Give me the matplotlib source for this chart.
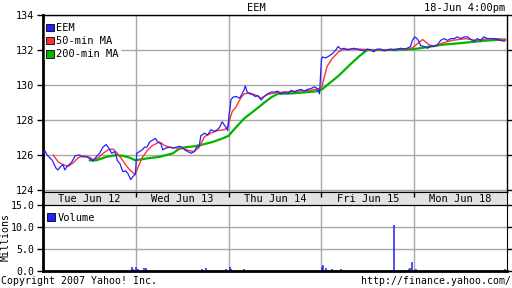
import matplotlib
matplotlib.use("Agg")
import matplotlib.pyplot as plt
from matplotlib.patches import Patch

plt.rcParams['font.family'] = ['DejaVu Sans Mono']
plt.rcParams['font.size'] = 7

# x is in trading days since Tue open (0..5)
days = ["Tue Jun 12", "Wed Jun 13", "Thu Jun 14", "Fri Jun 15", "Mon Jun 18"]

eem_x = [0.00, 0.02, 0.045, 0.10, 0.14, 0.16, 0.19, 0.215, 0.235, 0.26, 0.31, 0.345, 0.39, 0.43,
         0.47, 0.505, 0.54, 0.58, 0.61, 0.645, 0.68, 0.71, 0.74, 0.775, 0.80, 0.83, 0.86, 0.89,
         0.915, 0.945, 0.975, 0.995,
         1.01, 1.04, 1.07, 1.095, 1.12, 1.15, 1.18, 1.21, 1.235, 1.27, 1.29, 1.325, 1.36, 1.40,
         1.435, 1.47, 1.50, 1.525, 1.56, 1.595, 1.63, 1.65, 1.685, 1.70, 1.74, 1.775, 1.81, 1.845,
         1.88, 1.905, 1.93, 1.955, 1.97, 1.99,
         2.005, 2.015, 2.025, 2.045, 2.08, 2.12, 2.14, 2.165, 2.18, 2.20, 2.225, 2.26, 2.285,
         2.315, 2.35, 2.385, 2.42, 2.46, 2.495, 2.53, 2.565, 2.60, 2.64, 2.675, 2.71, 2.745, 2.78,
         2.815, 2.85, 2.89, 2.925, 2.955, 2.98,
         3.00, 3.01, 3.045, 3.08, 3.12, 3.155, 3.18, 3.21, 3.245, 3.28, 3.315, 3.35, 3.385, 3.42,
         3.46, 3.495, 3.53, 3.565, 3.60, 3.64, 3.675, 3.71, 3.745, 3.78, 3.815, 3.855, 3.89, 3.925,
         3.96, 3.98,
         4.005, 4.02, 4.045, 4.07, 4.11, 4.145, 4.18, 4.215, 4.25, 4.285, 4.32, 4.36, 4.395, 4.43,
         4.465, 4.50, 4.54, 4.575, 4.61, 4.645, 4.68, 4.715, 4.75, 4.79, 4.825, 4.86, 4.895, 4.93,
         4.97]
eem_y = [126.1, 126.25, 126.0, 125.7, 125.25, 125.15, 125.35, 125.45, 125.15, 125.35, 125.6, 125.95,
         126.0, 125.9, 125.9, 125.8, 125.65, 125.95, 126.1, 126.45, 126.6, 126.4, 126.1, 126.2,
         125.7, 125.5, 125.05, 125.1, 124.95, 124.6, 124.8, 124.9,
         126.1, 126.2, 126.3, 126.45, 126.45, 126.75, 126.85, 126.95, 126.75, 126.65, 126.3, 126.4,
         126.45, 126.4, 126.45, 126.5, 126.45, 126.3, 126.2, 126.1, 126.2, 126.4, 126.55, 127.1,
         127.25, 127.15, 127.45, 127.35, 127.45, 127.6, 127.9, 127.7, 127.6, 127.4,
         128.3, 128.65, 129.15, 129.3, 129.35, 129.25, 129.45, 129.7, 129.95, 129.6, 129.5, 129.45,
         129.35, 129.4, 129.15, 129.35, 129.5, 129.6, 129.6, 129.65, 129.5, 129.6, 129.5, 129.7,
         129.6, 129.7, 129.75, 129.65, 129.75, 129.8, 129.9, 129.8, 129.5,
         131.45, 131.6, 131.55, 131.65, 131.8, 132.0, 132.2, 132.05, 132.1, 132.0, 132.05, 132.1,
         132.05, 132.0, 131.95, 132.05, 132.0, 131.9, 132.05, 132.05, 131.95, 132.0, 132.05, 132.0,
         132.05, 132.1, 132.05, 132.1, 132.2, 132.55,
         132.75, 132.7, 132.55, 132.25, 132.2, 132.1, 132.25, 132.2, 132.3, 132.55, 132.65, 132.55,
         132.65, 132.65, 132.75, 132.65, 132.75, 132.75, 132.6, 132.5, 132.65, 132.55, 132.75,
         132.65, 132.65, 132.65, 132.6, 132.55, 132.5]

ma50_x = [0.11, 0.165, 0.22, 0.27, 0.325, 0.38, 0.435, 0.49, 0.54, 0.595, 0.65, 0.70, 0.755, 0.80,
          0.845, 0.89, 0.935, 0.99,
          1.005, 1.04, 1.075, 1.13, 1.18, 1.255, 1.31, 1.36, 1.435, 1.505, 1.575, 1.63, 1.685, 1.74,
          1.81, 1.88, 1.955, 1.99,
          2.01, 2.04, 2.08, 2.135, 2.17, 2.225, 2.28, 2.35, 2.42, 2.495, 2.60, 2.74, 2.89, 2.98,
          3.005, 3.06, 3.115, 3.185, 3.245, 3.41, 3.625, 3.84, 3.97,
          4.01, 4.09, 4.16, 4.215, 4.305, 4.41, 4.555, 4.665, 4.805, 4.915, 4.985]
ma50_y = [126.0, 125.6, 125.45, 125.35, 125.55, 125.85, 125.95, 125.9, 125.75, 125.85, 126.1, 126.3,
          126.35, 126.1, 125.8, 125.45, 125.15, 124.9,
          125.05, 125.5, 125.9, 126.3, 126.55, 126.75, 126.55, 126.45, 126.4, 126.4, 126.25, 126.2,
          126.45, 127.05, 127.25, 127.4, 127.45, 127.6,
          128.0, 128.5, 128.75, 129.3, 129.5, 129.55, 129.45, 129.25, 129.45, 129.55, 129.6, 129.65,
          129.7, 129.8,
          129.9, 131.05, 131.5, 131.9, 132.05, 132.05, 132.0, 132.05, 132.1,
          132.25, 132.6, 132.3, 132.2, 132.4, 132.55, 132.65, 132.55, 132.65, 132.65, 132.55]

ma200_x = [0.505, 0.575, 0.63, 0.685, 0.74, 0.79, 0.865, 0.935, 0.995,
           1.11, 1.255, 1.40, 1.465, 1.54, 1.63, 1.72, 1.83, 1.935, 2.0,
           2.065, 2.17, 2.28, 2.385, 2.46, 2.53, 2.675, 2.815, 2.96,
           3.005, 3.19, 3.315, 3.42, 3.495, 3.60, 3.815, 3.995,
           4.30, 4.51, 4.80, 4.98]
ma200_y = [125.7, 125.7, 125.8, 125.9, 125.95, 126.0, 125.95, 125.85, 125.7,
           125.8, 125.9, 126.1, 126.35, 126.45, 126.5, 126.6, 126.75, 126.95, 127.1,
           127.5, 128.1, 128.55, 129.0, 129.3, 129.5, 129.52, 129.58, 129.65,
           129.75, 130.55, 131.2, 131.7, 132.0, 132.0, 132.0, 132.05,
           132.3, 132.4, 132.55, 132.6]

vol_x = [0.003, 0.37, 0.525, 0.695, 0.88, 0.955, 0.97, 1.005, 1.025, 1.085, 1.11, 1.265, 1.715,
         1.76, 1.93, 1.975, 2.01, 2.03, 2.17, 2.755, 3.005, 3.02, 3.045, 3.085, 3.115, 3.16, 3.215,
         3.24, 3.765, 3.785, 3.87, 3.905, 3.94, 3.96, 3.98, 4.02, 4.925, 4.98]
vol_m = [1.0, 0.3, 0.3, 0.3, 0.3, 0.8, 0.5, 1.0, 0.5, 0.6, 0.6, 0.3, 0.4, 0.7, 0.3, 0.4, 1.0, 0.5,
         0.4, 0.25, 0.9, 1.4, 0.6, 0.3, 0.4, 0.3, 0.4, 0.3, 0.3, 10.5, 0.3, 0.3, 0.4, 0.6, 2.0, 0.4,
         0.3, 0.5]

price_ticks = [124, 126, 128, 130, 132, 134]
vol_ticks = [0.0, 5.0, 10.0, 15.0]

BLUE = '#2222ff'
RED = '#ff3333'
GREEN = '#00b400'
GRID = '#a8a8a8'
BAND = '#e2e2e2'
FS = 7.1

fig = plt.figure(figsize=(5.12, 2.88), dpi=100)
W, H = 512.0, 288.0

def box(l, t, r, b):
    return [l / W, 1 - b / H, (r - l) / W, (b - t) / H]

ax = fig.add_axes(box(43, 15, 507, 192))
band = fig.add_axes(box(43, 192, 507, 205))
axv = fig.add_axes(box(43, 205, 507, 271))

# price panel
ax.plot(ma200_x, ma200_y, color=GREEN, lw=1.6, zorder=3)
ax.plot(ma50_x, ma50_y, color=RED, lw=1.0, zorder=4)
ax.plot(eem_x, eem_y, color=BLUE, lw=0.9, zorder=5)
ax.set_xlim(0, 5)
ax.set_ylim(123.89, 134.0)
ax.set_yticks(price_ticks)
ax.set_yticklabels([str(t) for t in price_ticks])
ax.set_xticks([1, 2, 3, 4])
ax.set_xticklabels([])
ax.grid(True, color=GRID, lw=1.0, zorder=0)
ax.tick_params(axis='y', direction='out', length=4, width=1, pad=2, labelsize=7.3,
               right=True)
ax.tick_params(axis='x', length=0)
for s in ax.spines.values():
    s.set_color('black')
    s.set_linewidth(1.0)
ax.spines['left'].set_linewidth(2.0)

h = [Patch(facecolor=BLUE, edgecolor='black', lw=0.6),
     Patch(facecolor=RED, edgecolor='black', lw=0.6),
     Patch(facecolor=GREEN, edgecolor='black', lw=0.6)]
leg = ax.legend(h, ["EEM", "50-min MA", "200-min MA"], loc='upper left',
                bbox_to_anchor=(0.004, 0.96),
                handlelength=0.75, handleheight=0.75, handletextpad=0.25,
                labelspacing=0.3, borderpad=0.1, borderaxespad=0.0,
                frameon=True, fancybox=False, fontsize=7.5)
leg.get_frame().set_facecolor('white')
leg.get_frame().set_edgecolor('white')
leg.get_frame().set_alpha(1)

# date band
band.set_facecolor(BAND)
band.set_xlim(0, 5)
band.set_ylim(0, 1)
band.set_xticks([])
band.set_yticks([])
for i, d in enumerate(days):
    band.text(i + 0.5, 0.45, d, ha='center', va='center', fontsize=7.5)
for s in band.spines.values():
    s.set_color('black')
band.spines['left'].set_linewidth(2.0)
band.vlines([1, 2, 3, 4], 0.6, 1.0, color='black', lw=1)

# volume panel
axv.vlines(vol_x, 0, vol_m, color=BLUE, lw=1.1)
axv.set_xlim(0, 5)
axv.set_ylim(0, 15)
axv.set_yticks(vol_ticks)
axv.set_yticklabels(["%.1f" % t for t in vol_ticks])
axv.set_xticks([1, 2, 3, 4])
axv.set_xticklabels([])
axv.grid(True, color=GRID, lw=1.0, zorder=0)
axv.tick_params(axis='y', direction='out', length=4, width=1, pad=2, labelsize=FS,
                right=True)
axv.tick_params(axis='x', length=0)
for s in axv.spines.values():
    s.set_color('black')
axv.spines['left'].set_linewidth(2.0)
axv.spines['bottom'].set_linewidth(2.0)
vleg = axv.legend([Patch(facecolor=BLUE, edgecolor='black', lw=0.6)], ["Volume"],
                  loc='upper left', bbox_to_anchor=(0.006, 0.90),
                  handlelength=0.75, handleheight=0.75,
                  handletextpad=0.25, borderpad=0.1, borderaxespad=0.0,
                  frameon=False, fontsize=7.5)

fig.text(6 / W, 1 - 237 / H, "Millions", rotation=90, ha='center', va='center', fontsize=FS)
fig.text(0.5, 1 - 8 / H, "EEM", ha='center', va='center', fontsize=7.5)
fig.text(505 / W, 1 - 8 / H, "18-Jun 4:00pm", ha='right', va='center', fontsize=7.5)
fig.text(1 / W, 1 - 281 / H, "Copyright 2007 Yahoo! Inc.", ha='left', va='center', fontsize=FS)
fig.text(511 / W, 1 - 281 / H, "http://finance.yahoo.com/", ha='right', va='center',
         fontsize=FS)

fig.savefig("out.png", dpi=100)
